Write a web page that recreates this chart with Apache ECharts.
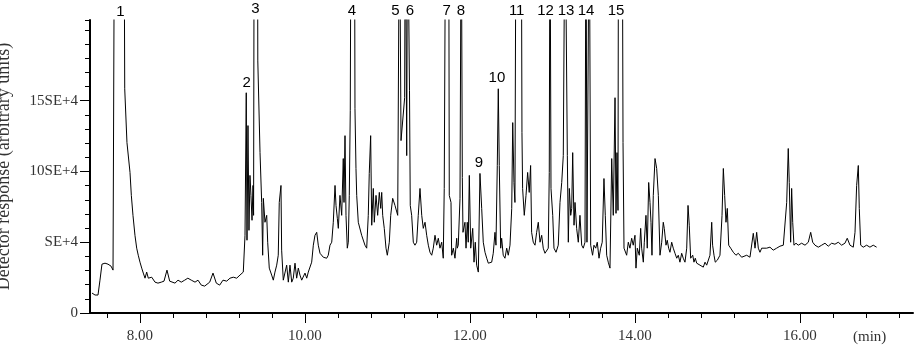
<!DOCTYPE html>
<html><head><meta charset="utf-8">
<script src="https://cdn.jsdelivr.net/npm/echarts@6/dist/echarts.min.js"></script>
<style>html,body{margin:0;padding:0;background:#fff}#c{width:919px;height:348px}</style>
</head><body><div id="c"></div>
<script>
// Retention time (min)
const retentionTime = [
  7.418,7.455,7.491,7.515,7.539,7.576,7.612,7.649,7.673,7.685,7.691,7.806,7.815,7.842,7.879,7.895,7.915,7.939,7.960,7.979,8.000,8.021,8.040,8.061,8.081,8.101,8.142,8.182,8.218,8.258,8.291,8.327,8.360,8.424,8.461,8.500,8.542,8.580,8.622,8.667,8.703,8.743,8.784,8.845,8.885,8.925,8.966,9.006,
  9.051,9.091,9.131,9.172,9.212,9.252,9.273,9.288,9.297,9.309,9.321,9.333,9.345,9.358,9.370,9.377,9.384,9.424,9.428,9.455,9.475,9.487,9.495,9.515,9.536,9.548,9.567,9.596,9.616,9.636,9.657,9.676,9.688,9.709,9.717,9.737,9.758,9.778,9.798,9.818,9.839,9.858,9.879,9.899,9.919,9.939,9.960,9.979,10.000,10.021,10.040,10.061,10.081,10.101,10.121,10.142,10.161,10.182,10.222,10.263,10.282,10.303,10.324,10.343,10.364,10.376,10.392,10.404,10.424,10.445,10.464,10.473,10.485,10.497,10.513,10.525,10.537,10.549,10.558,10.600,10.606,
  10.618,10.627,10.646,10.687,10.727,10.748,10.767,10.779,10.796,10.809,10.828,10.840,10.861,10.881,10.901,10.918,10.930,10.942,10.961,10.982,10.998,11.022,11.039,11.063,11.091,11.124,11.145,11.164,11.208,11.216,11.233,11.243,11.257,11.267,11.276,11.293,11.313,11.333,11.354,11.373,11.394,11.415,11.434,11.455,11.475,11.495,11.515,11.536,11.555,11.576,11.596,11.616,11.636,11.657,11.676,11.688,11.705,11.742,11.749,11.770,11.778,11.798,11.818,11.839,11.846,11.858,11.879,11.894,11.907,11.915,11.939,11.952,11.967,11.979,11.992,12.009,12.033,12.049,12.064,12.081,12.101,12.121,
  12.142,12.161,12.182,12.203,12.222,12.243,12.263,12.282,12.303,12.315,12.331,12.343,12.355,12.372,12.384,12.403,12.424,12.445,12.464,12.485,12.506,12.518,12.533,12.545,12.558,12.622,12.630,12.638,12.658,12.679,12.699,12.718,12.735,12.747,12.767,12.788,12.808,12.828,12.849,12.869,12.888,12.909,12.930,12.949,12.961,12.970,12.982,13.003,13.018,13.043,13.070,13.091,13.112,13.131,13.152,13.176,13.180,13.192,13.204,13.221,13.233,13.245,13.261,13.273,13.293,13.313,13.333,13.354,13.373,13.394,13.406,13.418,13.446,13.463,13.486,13.503,13.524,13.543,13.564,13.584,13.603,13.624,13.640,13.657,13.676,13.697,
  13.718,13.737,13.758,13.770,13.782,13.794,13.800,13.846,13.855,13.867,13.899,13.919,13.939,13.960,13.979,14.000,14.012,14.028,14.052,14.069,14.081,14.101,14.113,14.133,14.149,14.166,14.182,14.194,14.206,14.222,14.243,14.263,14.283,14.303,14.324,14.343,14.355,14.376,14.391,14.408,14.424,14.445,14.464,14.485,14.506,14.525,14.545,14.566,14.585,14.606,14.627,14.643,14.658,14.675,14.700,14.715,14.731,14.748,14.767,14.788,14.809,14.828,14.849,14.869,14.888,14.909,14.930,14.941,14.958,14.973,14.998,15.030,15.055,15.071,15.087,15.103,15.119,15.136,15.160,15.192,15.224,15.252,15.293,15.313,
  15.354,15.394,15.415,15.434,15.455,15.475,15.495,15.515,15.536,15.555,15.596,15.636,15.676,15.717,15.757,15.798,15.818,15.839,15.858,15.870,15.887,15.899,15.912,15.927,15.952,15.979,16.020,16.061,16.101,16.130,16.154,16.182,16.222,16.263,16.303,16.343,16.384,16.424,16.464,16.505,16.545,16.573,16.606,16.646,16.667,16.687,16.707,16.719,16.736,16.767,16.808,16.848,16.888,16.929
];
// Detector response (arbitrary units); off-scale peaks estimated above the plotted range
const response = [
  14100,12700,12700,23200,34500,35200,34500,33100,30300,31000,300000,300000,158400,120400,99300,83100,69000,54900,45800,40800,35900,31700,28200,24600,28900,24600,25300,21800,21100,21800,22500,30300,22500,21100,23200,21800,23200,24600,23200,21800,23200,19700,19000,21800,28200,21100,19700,23200,
  22500,24600,25300,24600,26800,28900,54900,155600,51400,132400,58400,97200,83100,65500,90100,69000,300000,300000,178100,113300,78100,40800,81000,64100,69000,50000,31700,26800,23200,28900,33800,40800,78100,90100,44400,23200,21800,33800,21800,33800,21800,24600,35200,24600,31700,26800,23200,24600,28200,24600,28900,30300,35900,47900,54900,57000,47900,42200,39400,38700,40800,47900,50000,64100,90100,76000,66900,59800,83100,69000,109100,78100,125300,69000,45800,50000,83100,142900,300000,300000,144300,
  102100,83100,64100,54900,47900,45800,69000,98600,125300,62000,88000,64100,83100,69000,85200,73900,85200,69000,59800,45800,40800,50000,69000,81000,76000,69000,300000,121800,152100,300000,111200,300000,300000,157000,76000,69000,50000,47900,50000,69000,88000,69000,59800,64100,54900,47900,42900,40800,45800,54900,47900,52800,45800,50000,38700,88000,300000,300000,83100,78100,40800,45800,38700,52800,45800,47900,81000,300000,95700,57000,64100,45800,64100,50000,97200,45800,59800,35900,50000,33800,28900,98600,
  73900,50000,42900,38700,35200,33800,35900,42200,57000,47900,104200,158400,104200,45800,52800,40800,38700,45800,40800,47900,73900,134500,92200,78100,300000,300000,127400,88000,69000,83100,99300,85200,104200,57000,50000,47900,57000,64100,50000,54900,45800,42200,40800,45800,99300,300000,88000,69000,45800,42900,47900,78100,92200,111200,300000,300000,111200,50000,88000,69000,73900,113300,62000,78100,59800,50000,69000,47900,45800,50000,300000,50000,300000,47900,40800,47900,45800,50000,38700,45800,50000,95000,69000,40800,35900,31700,
  109100,69000,152100,70400,113300,72500,300000,300000,120400,45800,40800,50000,45800,52800,47900,54900,31700,45800,40800,59800,45800,35900,50000,69000,45800,92200,78100,64100,40800,83100,109100,102100,83100,40800,50000,64100,59800,47900,51400,45800,42900,50000,45800,42200,38700,40800,35900,42200,38700,35900,45800,76000,62000,38700,40800,35900,38700,35200,35900,33800,35200,32400,35900,33800,35200,40800,64100,47900,40800,35900,37300,40800,69000,102100,83100,64100,73900,47900,45800,42900,40800,42200,39400,38700,
  40800,39400,38700,56300,45800,57000,45800,42900,45800,44400,45800,46500,44400,45800,47200,47900,47900,78100,116200,92200,50000,88000,64100,47900,49300,47900,49300,47900,50000,57000,50000,47900,46500,47900,49300,47200,49300,48600,50000,47900,49300,52800,47900,46500,57000,90100,104200,73900,47900,46500,47900,46500,47900,46500
];

// Axis ticks and labels
const xMajorTicks = [8, 10, 12, 14, 16];
const xTickLabels = ['8.00', '10.00', '12.00', '14.00', '16.00'];
const xMinorTicks = [7.6,8.0,8.4,8.8,9.2,9.6,10.0,10.4,10.8,11.2,11.6,12.0,12.4,12.8,13.2,13.6,14.0,14.4,14.8,15.2,15.6,16.0,16.4,16.8,17.2];
const yTickValues = [0, 50000, 100000, 150000];
const yTickLabels = ['0', 'SE+4', '10SE+4', '15SE+4'];

// Peak annotations
const peakLabels = ['1','2','3','4','5','6','7','8','9','10','11','12','13','14','15'];
const peakLabelTimes = [7.764,9.293,9.400,10.570,11.097,11.273,11.718,11.891,12.109,12.327,12.566,12.915,13.164,13.406,13.770];
const peakLabelLevels = [212600,162600,214700,213300,213300,213300,213300,213300,106300,166100,213300,213300,213300,213300,213300];

const X_MIN = 7.394, X_MAX = 17.37, Y_MAX = 207000;
const serif = '"Liberation Serif","Times New Roman",serif';

const chart = echarts.init(document.getElementById('c'), null, {renderer: 'canvas'});
const traceData = retentionTime.map((t, i) => [t, response[i]]);

chart.setOption({
  animation: false,
  backgroundColor: '#fff',
  grid: {left: 90, right: 6, top: 20, bottom: 35, containLabel: false, outerBoundsMode: 'none'},
  xAxis: [
    {
      type: 'value', min: X_MIN, max: X_MAX, position: 'bottom',
      axisLine: {show: true, onZero: false, lineStyle: {color: '#000', width: 2}},
      axisTick: {show: true, customValues: xMajorTicks, length: 10, lineStyle: {color: '#000', width: 1}},
      axisLabel: {
        show: true, customValues: xMajorTicks, margin: 16,
        formatter: v => { const i = xMajorTicks.findIndex(m => Math.abs(m - v) < 1e-6); return i >= 0 ? xTickLabels[i] : ''; },
        fontFamily: serif, fontSize: 15, color: '#333'
      },
      splitLine: {show: false}
    },
    {
      type: 'value', min: X_MIN, max: X_MAX, position: 'bottom',
      axisLine: {show: false, onZero: false},
      axisTick: {show: true, customValues: xMinorTicks, length: 5, lineStyle: {color: '#000', width: 1}},
      axisLabel: {show: false},
      splitLine: {show: false}
    }
  ],
  yAxis: [
    {
      type: 'value', min: 0, max: Y_MAX, interval: 10000, position: 'left',
      axisLine: {show: true, onZero: false, lineStyle: {color: '#000', width: 2}},
      axisTick: {show: true, length: 5, lineStyle: {color: '#000', width: 1}},
      axisLabel: {show: false},
      splitLine: {show: false},
      name: 'Detector response (arbitrary units)',
      nameLocation: 'middle', nameGap: 77, nameRotate: 90,
      nameTextStyle: {fontFamily: serif, fontSize: 18, color: '#333'}
    },
    {
      type: 'value', min: 0, max: Y_MAX, position: 'left',
      axisLine: {show: false, onZero: false},
      axisTick: {show: true, customValues: yTickValues, length: 10, lineStyle: {color: '#000', width: 1}},
      axisLabel: {
        show: true, customValues: yTickValues, margin: 12,
        formatter: v => { const i = yTickValues.indexOf(v); return i >= 0 ? yTickLabels[i] : ''; },
        fontFamily: serif, fontSize: 15, color: '#333'
      },
      splitLine: {show: false}
    }
  ],
  series: [{
    type: 'line', xAxisIndex: 0, yAxisIndex: 0, data: traceData,
    symbol: 'none', showSymbol: false, clip: true,
    lineStyle: {color: '#000', width: 1}
  }]
});

const labelGraphics = peakLabels.map((s, i) => {
  const p = chart.convertToPixel({xAxisIndex: 0, yAxisIndex: 0}, [peakLabelTimes[i], peakLabelLevels[i]]);
  return {
    type: 'text', x: p[0], y: p[1], z: 100,
    style: {text: s, font: '15px "Liberation Sans", Arial, sans-serif', fill: '#000', align: 'center', verticalAlign: 'middle'}
  };
});
chart.setOption({graphic: [{
  type: 'text', left: 853, top: 330,
  style: {text: '(min)', font: '15px ' + serif, fill: '#333'}
}].concat(labelGraphics)});
</script>
</body></html>
